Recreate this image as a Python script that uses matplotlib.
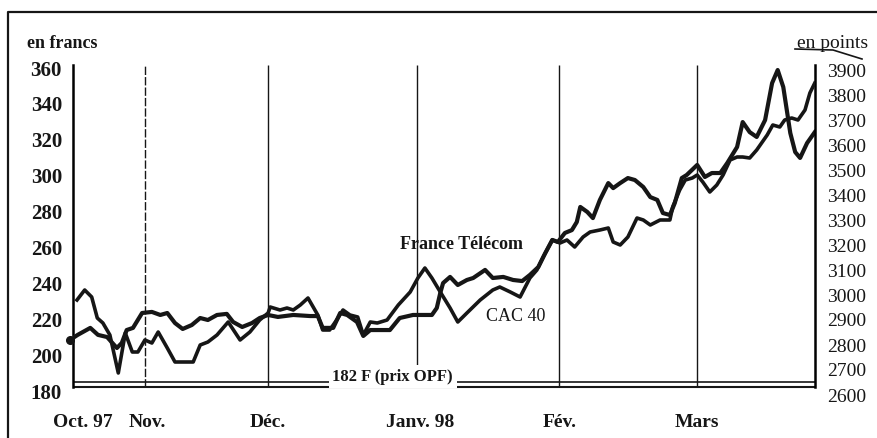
import matplotlib
matplotlib.use('Agg')
import matplotlib.pyplot as plt
from matplotlib.lines import Line2D

# France Télécom (en francs), séances depuis l'introduction
ft_seance = [0.0, 1.1, 2.9, 4.0, 5.3, 6.7, 7.4, 8.1, 9.0, 10.3, 11.7, 12.9, 13.9, 15.0,
             16.1, 17.4, 18.6, 19.7, 21.0, 22.4, 23.3, 24.6, 26.0, 27.1, 28.3, 29.7,
             31.9, 34.3, 35.4, 36.1, 37.6, 38.6, 39.6, 41.0, 41.9, 42.9, 45.7, 47.1,
             49.0, 51.7, 52.4, 52.9, 53.3, 54.3, 55.4, 56.7, 57.6, 59.3, 60.4, 61.9,
             63.3, 64.6, 65.7, 66.9, 67.9, 68.9, 69.7, 70.7, 71.7, 72.4, 72.9, 73.9,
             74.7, 75.7, 76.9, 77.6, 78.6, 79.7, 80.7, 81.9, 82.9, 83.9, 84.7, 85.7,
             86.4, 87.4, 88.1, 89.6, 90.7, 91.7, 92.9, 93.9, 95.3, 96.1, 97.1, 98.1,
             99.3, 100.3, 101.1, 101.9, 102.9, 103.6, 104.3, 105.3, 106.4]
ft_cours = [208.5, 211.3, 215.2, 211.3, 210.1, 204.0, 206.8, 214.0, 215.2, 223.5, 224.1,
            222.4, 223.5, 217.9, 214.6, 216.8, 220.7, 219.6, 222.4, 223.0, 218.5, 215.7,
            217.9, 220.7, 222.4, 221.3, 222.4, 221.8, 221.8, 215.2, 215.2, 223.5, 222.4,
            218.5, 210.7, 214.0, 214.0, 220.7, 222.4, 222.4, 226.3, 234.7, 240.2, 243.6,
            239.1, 241.9, 243.0, 247.5, 243.0, 243.6, 241.9, 241.3, 244.7, 249.1, 256.9,
            264.2, 263.1, 268.1, 269.7, 274.2, 282.6, 279.8, 276.4, 286.5, 295.9, 293.1,
            295.9, 298.7, 297.6, 293.7, 288.1, 286.5, 279.2, 278.1, 284.8, 298.7, 300.4,
            306.0, 299.3, 301.5, 301.5, 307.1, 316.0, 329.9, 324.3, 321.6, 331.0, 351.6,
            358.9, 349.4, 323.8, 313.2, 309.9, 318.2, 324.3]

# CAC 40 (en points)
cac_seance = [1.0, 2.1, 3.1, 3.9, 4.7, 5.7, 6.9, 7.9, 8.9, 9.7, 10.7, 11.7, 12.6, 13.9,
              15.0, 17.6, 18.6, 19.7, 21.0, 22.6, 24.3, 25.7, 27.1, 28.3, 28.6, 30.0,
              31.0, 31.9, 32.9, 34.0, 35.4, 36.1, 37.1, 38.1, 39.0, 40.0, 41.1, 41.9,
              42.9, 43.9, 45.3, 46.9, 48.6, 49.7, 50.7, 51.7, 52.9, 54.3, 55.4, 56.7,
              58.6, 60.4, 61.4, 62.9, 64.3, 65.7, 66.7, 67.6, 68.9, 70.0, 71.0, 72.1,
              73.3, 74.3, 75.7, 76.9, 77.6, 78.6, 79.7, 81.0, 81.9, 82.9, 84.3, 85.7,
              86.1, 87.1, 87.9, 88.9, 89.6, 90.4, 91.4, 92.4, 93.3, 94.3, 95.3, 96.1,
              97.1, 98.1, 99.6, 100.4, 101.4, 102.1, 103.1, 104.0, 105.0, 105.7, 106.4]
cac_points = [2980, 3020, 2992, 2908, 2888, 2840, 2688, 2848, 2772, 2772, 2820, 2808,
              2852, 2788, 2732, 2732, 2800, 2812, 2840, 2892, 2820, 2852, 2900, 2928,
              2952, 2940, 2948, 2940, 2960, 2988, 2920, 2860, 2860, 2900, 2940, 2920,
              2912, 2840, 2892, 2888, 2900, 2960, 3012, 3068, 3108, 3068, 3012, 2948,
              2892, 2928, 2980, 3020, 3032, 3012, 2992, 3068, 3100, 3152, 3220, 3208,
              3220, 3192, 3232, 3252, 3260, 3268, 3212, 3200, 3232, 3308, 3300, 3280,
              3300, 3300, 3352, 3420, 3460, 3468, 3480, 3452, 3412, 3440, 3480, 3540,
              3552, 3552, 3548, 3580, 3640, 3680, 3672, 3700, 3708, 3700, 3740, 3808, 3848]

# début de chaque mois (en séances) et libellés
mois_lignes = [10.7, 28.3, 49.6, 69.9, 89.6]
mois_pos = [1.9, 11.0, 28.3, 50.0, 69.9, 89.6]
mois_labels = ['Oct. 97', 'Nov.', 'Déc.', 'Janv. 98', 'Fév.', 'Mars']
prix_opf = 182

W, H = 877, 438
fig = plt.figure(figsize=(W / 100, H / 100), dpi=100)
ax = fig.add_axes([73 / W, 1 - 395 / H, (815 - 73) / W, (395 - 65) / H])
ax2 = ax.twinx()

serif = 'Liberation Serif'
ink = '#161616'

ax.set_xlim(0.43, 106.43)
ax.set_ylim(177.8, 361.7)
ax2.set_ylim(2600, 3920)

# lignes des mois
for i, m in enumerate(mois_lignes):
    ax.vlines(m, prix_opf, 361.7, color=ink, lw=1.0,
              linestyles=(0, (6, 1.5)) if i == 0 else 'solid')

# double ligne du prix OPF
ax.axhline(prix_opf, color=ink, lw=1.5)
ax.axhline(prix_opf + 2.8, color=ink, lw=1.2)
ax.text(46.1, 187.9, '182 F (prix OPF)', family=serif, fontsize=12, fontweight='bold',
        ha='center', va='center', color=ink, zorder=5,
        bbox=dict(facecolor='white', edgecolor='none', pad=2.5))

# courbes
ax.plot(ft_seance, ft_cours, color=ink, lw=3.0, solid_joinstyle='round', zorder=4)
ax.plot(ft_seance[0], ft_cours[0], 'o', color=ink, ms=5.5, clip_on=False, zorder=4)
ax2.plot(cac_seance, cac_points, color=ink, lw=2.6, solid_joinstyle='round', zorder=4)

ax.text(56.0, 261.4, 'France Télécom', family=serif, fontsize=13, fontweight='bold',
        ha='center', va='center', color=ink, zorder=6)
ax.text(63.6, 221.3, 'CAC 40', family=serif, fontsize=13,
        ha='center', va='center', color=ink, zorder=6)

# axes
for a in (ax, ax2):
    for s in ('top', 'bottom'):
        a.spines[s].set_visible(False)
ax.spines['right'].set_visible(False)
ax2.spines['left'].set_visible(False)
ax.spines['left'].set_bounds(prix_opf, 361.7)
ax.spines['left'].set_linewidth(1.8)
ax2.spines['right'].set_bounds(2600 + (prix_opf - 177.8) * 1320 / 183.9, 3920)
ax2.spines['right'].set_linewidth(1.8)

ax.set_yticks(range(180, 361, 20))
ax.tick_params(axis='y', length=0, pad=8)
for t in ax.get_yticklabels():
    t.set_family(serif)
    t.set_fontsize(15)
    t.set_fontweight('bold')
    t.set_color(ink)

ax2.set_yticks(range(2600, 3901, 100))
ax2.tick_params(axis='y', length=0, pad=9)
for t in ax2.get_yticklabels():
    t.set_family(serif)
    t.set_fontsize(14)
    t.set_color(ink)

ax.set_xticks(mois_pos)
ax.set_xticklabels(mois_labels, family=serif, fontsize=14, fontweight='bold', color=ink)
ax.tick_params(axis='x', length=0, pad=14)

# unités
fig.text(27 / W, 1 - 43 / H, 'en francs', family=serif, fontsize=13, fontweight='bold',
         ha='left', va='center', color=ink)
fig.text(797 / W, 1 - 44 / H, 'en points', family=serif, fontsize=14,
         ha='left', va='center', color=ink)
fig.add_artist(Line2D([795 / W, 833 / W, 862 / W], [1 - 49 / H, 1 - 50 / H, 1 - 59 / H],
                      color=ink, lw=1.2))

# cadre
fig.add_artist(Line2D([8 / W, 8 / W, 1.0], [0.0, 1 - 12 / H, 1 - 12 / H], color=ink, lw=1.6))

fig.savefig('out.png', dpi=100, facecolor='white')
